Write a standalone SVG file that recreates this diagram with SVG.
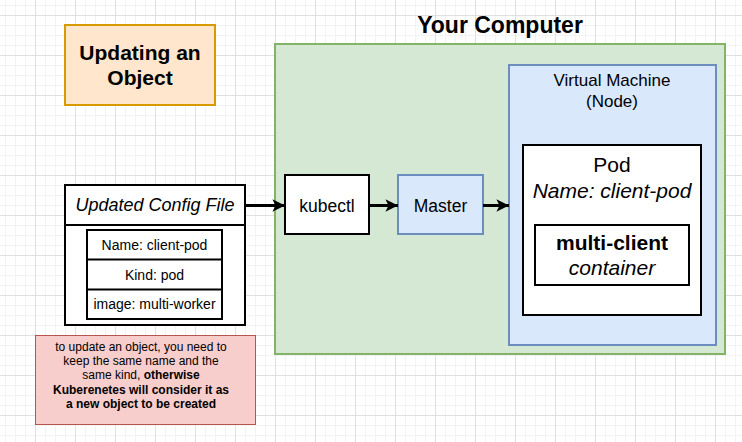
<svg xmlns="http://www.w3.org/2000/svg" width="742" height="442" viewBox="0 0 742 442">
  <defs>
    <!-- background grid: fine 10px lines, stronger 40px lines -->
    <pattern id="gridMinor" patternUnits="userSpaceOnUse" x="0" y="0" width="10" height="10">
      <path d="M5.5 0V10M0 5.5H10" stroke="#f3f3f3" stroke-width="1" fill="none"/>
    </pattern>
    <pattern id="gridMajor" patternUnits="userSpaceOnUse" x="0" y="0" width="40" height="40">
      <path d="M35.5 0V40M0 15.5H40" stroke="#e0e0e0" stroke-width="1" fill="none"/>
    </pattern>
    <marker id="arrow" viewBox="0 0 10 10" refX="10" refY="5" markerWidth="5" markerHeight="4.2" markerUnits="strokeWidth" orient="auto">
      <path d="M0 0L10 5L0 10L2.5 5Z" fill="#000"/>
    </marker>
    <style>
      text { font-family: "Liberation Sans", Arial, Helvetica, sans-serif; fill: #000; text-anchor: middle; }
      .bold { font-weight: bold; }
      .it { font-style: italic; }
      .box { fill: #fff; stroke: #000; stroke-width: 2; }
      .blue { fill: #dae8fc; stroke: #6c8ebf; stroke-width: 2; }
      .edge { stroke: #000; stroke-width: 3; fill: none; marker-end: url(#arrow); }
    </style>
  </defs>

  <rect width="742" height="442" fill="#fff"/>
  <rect width="742" height="442" fill="url(#gridMinor)"/>
  <rect width="742" height="442" fill="url(#gridMajor)"/>

  <g id="title">
    <rect x="65" y="25" width="150" height="80" fill="#ffe6cc" stroke="#d79b00" stroke-width="2"/>
    <text class="bold" x="140" y="60" font-size="21">Updating an</text>
    <text class="bold" x="140" y="85" font-size="21">Object</text>
  </g>

  <g id="your-computer">
    <text class="bold" x="500" y="33" font-size="23">Your Computer</text>
    <rect x="275" y="44" width="450" height="310" fill="#d5e8d4" stroke="#82b366" stroke-width="2"/>
  </g>

  <g id="virtual-machine">
    <rect class="blue" x="509" y="65" width="207" height="280"/>
    <text x="612" y="86" font-size="17">Virtual Machine</text>
    <text x="612" y="107" font-size="17">(Node)</text>
  </g>

  <g id="pod">
    <rect class="box" x="523" y="145" width="178" height="170"/>
    <text x="612" y="172" font-size="21">Pod</text>
    <text class="it" x="612" y="198" font-size="21">Name: client-pod</text>
  </g>

  <g id="container">
    <rect class="box" x="535" y="225" width="154" height="60"/>
    <text class="bold" x="612" y="250" font-size="21">multi-client</text>
    <text class="it" x="612" y="275" font-size="21">container</text>
  </g>

  <g id="kubectl">
    <rect class="box" x="285" y="175" width="84" height="59"/>
    <text x="327" y="212" font-size="17.5">kubectl</text>
  </g>

  <g id="master">
    <rect class="blue" x="398" y="175" width="85" height="59"/>
    <text x="440.5" y="212" font-size="17.5">Master</text>
  </g>

  <g id="config-file">
    <rect class="box" x="65" y="185" width="180" height="140"/>
    <line x1="65" y1="225" x2="245" y2="225" stroke="#000" stroke-width="2"/>
    <text class="it" x="155" y="211" font-size="18">Updated Config File</text>
    <rect class="box" x="87" y="230" width="135" height="89"/>
    <line x1="87" y1="259.5" x2="222" y2="259.5" stroke="#000" stroke-width="2"/>
    <line x1="87" y1="289.5" x2="222" y2="289.5" stroke="#000" stroke-width="2"/>
    <text x="154.5" y="250" font-size="14">Name: client-pod</text>
    <text x="154.5" y="280" font-size="14">Kind: pod</text>
    <text x="154.5" y="309" font-size="14">image: multi-worker</text>
  </g>

  <g id="note">
    <rect x="35.5" y="335.5" width="220" height="89" fill="#f8cecc" stroke="#b85450" stroke-width="1"/>
    <text x="141" y="351" font-size="12">to update an object, you need to</text>
    <text x="141" y="365" font-size="12">keep the same name and the</text>
    <text x="141" y="379" font-size="12">same kind, <tspan class="bold">otherwise</tspan></text>
    <text class="bold" x="141" y="393.5" font-size="12">Kuberenetes will consider it as</text>
    <text class="bold" x="141" y="408" font-size="12">a new object to be created</text>
  </g>

  <g id="connectors">
    <line class="edge" x1="245" y1="205.5" x2="285" y2="205.5"/>
    <line class="edge" x1="369" y1="205.5" x2="398" y2="205.5"/>
    <line class="edge" x1="483" y1="205.5" x2="509" y2="205.5"/>
  </g>
</svg>
